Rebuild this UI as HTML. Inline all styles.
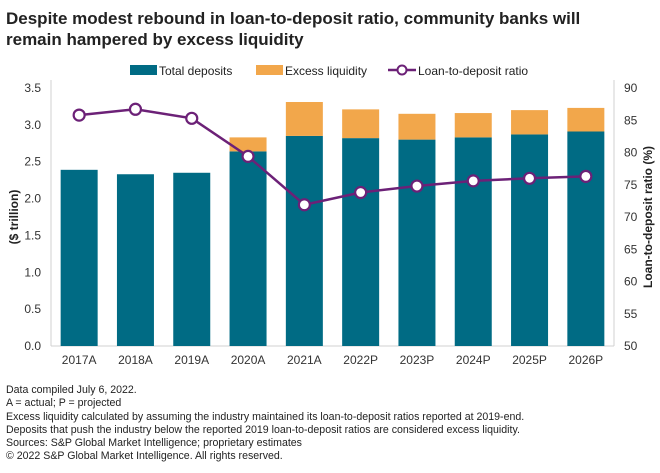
<!DOCTYPE html>
<html><head><meta charset="utf-8"><style>
body{margin:0;background:#fff;font-family:"Liberation Sans",sans-serif;}
#wrap{position:relative;width:660px;height:473px;overflow:hidden;}
.title{position:absolute;left:6px;top:8px;font-size:17px;font-weight:bold;line-height:21px;color:#222;}
.notes{position:absolute;left:6px;top:384px;font-size:10.6px;line-height:13.3px;color:#222;}
</style></head><body>
<div id="wrap">
<div class="title">Despite modest rebound in loan-to-deposit ratio, community banks will<br>remain hampered by excess liquidity</div>
<svg id="chart" width="660" height="473" style="position:absolute;left:0;top:0"></svg>
<div class="notes">Data compiled July 6, 2022.<br>A = actual; P = projected<br>Excess liquidity calculated by assuming the industry maintained its loan-to-deposit ratios reported at 2019-end.<br>Deposits that push the industry below the reported 2019 loan-to-deposit ratios are considered excess liquidity.<br>Sources: S&amp;P Global Market Intelligence; proprietary estimates<br>© 2022 S&amp;P Global Market Intelligence. All rights reserved.</div>
</div>
<script>
const categories=["2017A","2018A","2019A","2020A","2021A","2022P","2023P","2024P","2025P","2026P"];
const deposits=[2.39,2.33,2.35,2.64,2.85,2.82,2.80,2.83,2.87,2.91];
const excess=[0,0,0,0.19,0.46,0.39,0.35,0.33,0.33,0.32];
const ratio=[85.8,86.7,85.3,79.4,71.9,73.8,74.8,75.6,76.0,76.3];
const leftTicks=[0,0.5,1.0,1.5,2.0,2.5,3.0,3.5];
const rightTicks=[50,55,60,65,70,75,80,85,90];
const NS="http://www.w3.org/2000/svg";
const svg=document.getElementById('chart');
const x0=51,x1=614,yTop=88,yBot=346;
const yL=v=>yBot-(v/3.5)*(yBot-yTop);
const yR=v=>yBot-((v-50)/40)*(yBot-yTop);
const step=(x1-x0)/categories.length;
const xC=i=>x0+step*(i+0.5);
const bw=37;
function mk(t,a){const e=document.createElementNS(NS,t);for(const k in a)e.setAttribute(k,a[k]);svg.appendChild(e);return e;}
mk('line',{x1:x0,y1:yTop-8,x2:x0,y2:yBot,stroke:'#d0d0d0'});
mk('line',{x1:x1,y1:yTop-8,x2:x1,y2:yBot,stroke:'#d0d0d0'});
mk('line',{x1:x0,y1:yBot,x2:x1,y2:yBot,stroke:'#d0d0d0'});
leftTicks.forEach(v=>{const t=mk('text',{x:x0-10,y:yL(v)+4,'text-anchor':'end','font-size':'12',fill:'#333'});t.textContent=v.toFixed(1);

});
rightTicks.forEach(v=>{const t=mk('text',{x:x1+10,y:yR(v)+4,'font-size':'12',fill:'#333'});t.textContent=v;

});
categories.forEach((c,i)=>{
const r=mk('rect',{x:xC(i)-bw/2,y:yL(deposits[i]),width:bw,height:yBot-yL(deposits[i]),fill:'#006b84'});


if(excess[i]>0){const e=mk('rect',{x:xC(i)-bw/2,y:yL(deposits[i]+excess[i]),width:bw,height:yL(deposits[i])-yL(deposits[i]+excess[i]),fill:'#f2a74b'});

}
const t=mk('text',{x:xC(i),y:yBot+18,'text-anchor':'middle','font-size':'12',fill:'#333'});t.textContent=c;


});
const pl=mk('polyline',{points:ratio.map((v,i)=>xC(i)+','+yR(v)).join(' '),fill:'none',stroke:'#6c2177','stroke-width':'2.5'});


ratio.forEach((v,i)=>{const c=mk('circle',{cx:xC(i),cy:yR(v),r:5.5,fill:'#fff',stroke:'#6c2177','stroke-width':'2.2'});

});
const ly=mk('text',{x:0,y:0,transform:'translate(18,217) rotate(-90)','text-anchor':'middle','font-size':'12','font-weight':'bold',fill:'#222'});ly.textContent='($ trillion)';


const ry=mk('text',{x:0,y:0,transform:'translate(652,217) rotate(-90)','text-anchor':'middle','font-size':'12','font-weight':'bold',fill:'#222'});ry.textContent='Loan-to-deposit ratio (%)';


const g1=mk('rect',{x:130,y:65,width:27,height:10,fill:'#006b84'});


const t1=mk('text',{x:159,y:75,'font-size':'12',fill:'#222'});t1.textContent='Total deposits';


const g2=mk('rect',{x:256,y:65,width:27,height:10,fill:'#f2a74b'});


const t2=mk('text',{x:285,y:75,'font-size':'12',fill:'#222'});t2.textContent='Excess liquidity';


const l3=mk('line',{x1:388,y1:70,x2:416,y2:70,stroke:'#6c2177','stroke-width':'2.5'});


const c3=mk('circle',{cx:402,cy:70,r:4.5,fill:'#fff',stroke:'#6c2177','stroke-width':'2'});


const t3=mk('text',{x:418,y:75,'font-size':'12',fill:'#222'});t3.textContent='Loan-to-deposit ratio';


</script>
</body></html>
